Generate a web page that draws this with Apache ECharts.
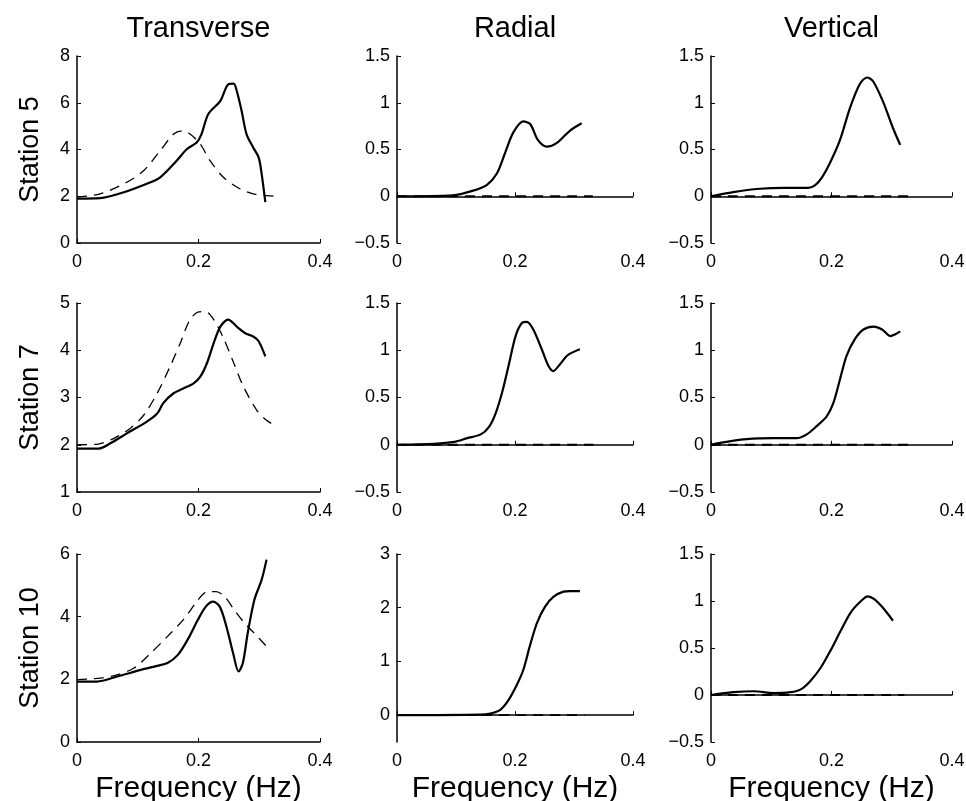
<!DOCTYPE html>
<html>
<head>
<meta charset="utf-8">
<title>Station spectra</title>
<script src="https://cdn.jsdelivr.net/npm/echarts@6/dist/echarts.min.js"></script>
<style>
  html, body { margin: 0; padding: 0; background: #fff; }
  #chart { width: 966px; height: 801px; }
</style>
</head>
<body>
<div id="chart"></div>
<script>
var components = ['Transverse', 'Radial', 'Vertical']
var stations = ['Station 5', 'Station 7', 'Station 10']
var xTicks = [0, 0.2, 0.4]

// y range + tick values, row by row
var yRanges = [[0, 8], [-0.5, 1.5], [-0.5, 1.5], [1, 5], [-0.5, 1.5], [-0.5, 1.5], [0, 6], [-0.5, 3], [-0.5, 1.5]]
var yTicks = [
  [0, 2, 4, 6, 8], [-0.5, 0, 0.5, 1, 1.5], [-0.5, 0, 0.5, 1, 1.5],
  [1, 2, 3, 4, 5], [-0.5, 0, 0.5, 1, 1.5], [-0.5, 0, 0.5, 1, 1.5],
  [0, 2, 4, 6], [0, 1, 2, 3], [-0.5, 0, 0.5, 1, 1.5]
]

// Station 5
var st5Trans = [[0, 1.9], [0.038, 1.92], [0.077, 2.17], [0.121, 2.6], [0.137, 2.81], [0.164, 3.52], [0.181, 4.02], [0.197, 4.3], [0.205, 4.66], [0.216, 5.51], [0.236, 6.08], [0.249, 6.79], [0.258, 6.82], [0.263, 6.5], [0.271, 5.65], [0.279, 4.66], [0.29, 4.09], [0.299, 3.66], [0.304, 2.95], [0.31, 1.75]]
var st5TransDash = [[0, 1.96], [0.038, 2.1], [0.082, 2.6], [0.11, 3.1], [0.137, 3.95], [0.159, 4.66], [0.173, 4.8], [0.186, 4.66], [0.203, 4.23], [0.219, 3.52], [0.241, 2.81], [0.268, 2.32], [0.29, 2.1], [0.312, 2.03], [0.329, 1.99]]
var st5Rad = [[0, 0], [0.095, 0.01], [0.129, 0.06], [0.152, 0.12], [0.169, 0.24], [0.183, 0.46], [0.197, 0.68], [0.214, 0.8], [0.226, 0.77], [0.239, 0.6], [0.254, 0.53], [0.271, 0.57], [0.293, 0.7], [0.313, 0.78]]
var st5RadDash = [[0, 0], [0.332, 0]]
var st5Vert = [[0, 0], [0.037, 0.045], [0.081, 0.08], [0.12, 0.09], [0.161, 0.09], [0.173, 0.12], [0.184, 0.2], [0.197, 0.35], [0.214, 0.6], [0.231, 0.95], [0.247, 1.2], [0.259, 1.27], [0.269, 1.23], [0.285, 1.02], [0.302, 0.73], [0.314, 0.55]]
var st5VertDash = [[0, 0], [0.333, 0]]

// Station 7
var st7Trans = [[0, 1.92], [0.036, 1.92], [0.055, 2.03], [0.082, 2.24], [0.115, 2.49], [0.132, 2.66], [0.142, 2.88], [0.159, 3.09], [0.175, 3.19], [0.192, 3.3], [0.203, 3.44], [0.214, 3.73], [0.225, 4.15], [0.236, 4.5], [0.249, 4.65], [0.263, 4.5], [0.277, 4.36], [0.29, 4.29], [0.299, 4.19], [0.31, 3.87]]
var st7TransDash = [[0, 2.0], [0.033, 2.01], [0.06, 2.13], [0.088, 2.35], [0.11, 2.63], [0.132, 3.09], [0.153, 3.65], [0.17, 4.15], [0.186, 4.65], [0.2, 4.81], [0.211, 4.82], [0.225, 4.65], [0.241, 4.26], [0.258, 3.73], [0.274, 3.23], [0.296, 2.73], [0.312, 2.52], [0.329, 2.38]]
var st7Rad = [[0, 0], [0.063, 0.01], [0.097, 0.03], [0.119, 0.07], [0.142, 0.11], [0.156, 0.19], [0.167, 0.33], [0.178, 0.55], [0.19, 0.86], [0.201, 1.15], [0.212, 1.29], [0.22, 1.3], [0.231, 1.22], [0.246, 1.0], [0.257, 0.83], [0.265, 0.78], [0.276, 0.85], [0.29, 0.95], [0.31, 1.01]]
var st7RadDash = [[0, 0], [0.333, 0]]
var st7Vert = [[0, 0], [0.025, 0.03], [0.059, 0.06], [0.104, 0.07], [0.142, 0.07], [0.159, 0.11], [0.176, 0.2], [0.192, 0.3], [0.203, 0.44], [0.214, 0.69], [0.225, 0.94], [0.239, 1.12], [0.253, 1.22], [0.27, 1.25], [0.284, 1.22], [0.298, 1.15], [0.306, 1.17], [0.314, 1.2]]
var st7VertDash = [[0, 0], [0.333, 0]]

// Station 10
var st10Trans = [[0, 1.93], [0.033, 1.93], [0.066, 2.09], [0.105, 2.3], [0.132, 2.43], [0.149, 2.52], [0.166, 2.78], [0.182, 3.26], [0.199, 3.9], [0.212, 4.32], [0.224, 4.48], [0.235, 4.32], [0.246, 3.68], [0.257, 2.83], [0.266, 2.25], [0.273, 2.52], [0.281, 3.47], [0.292, 4.54], [0.304, 5.18], [0.312, 5.82]]
var st10TransDash = [[0, 1.99], [0.039, 2.04], [0.066, 2.14], [0.094, 2.36], [0.121, 2.83], [0.149, 3.37], [0.177, 3.95], [0.199, 4.53], [0.215, 4.8], [0.229, 4.8], [0.243, 4.64], [0.259, 4.21], [0.276, 3.79], [0.292, 3.47], [0.312, 3.05]]
var st10Rad = [[0, 0], [0.141, 0.01], [0.158, 0.03], [0.175, 0.1], [0.189, 0.28], [0.203, 0.56], [0.214, 0.84], [0.225, 1.28], [0.237, 1.71], [0.251, 2.02], [0.265, 2.2], [0.282, 2.3], [0.293, 2.31], [0.31, 2.31]]
var st10RadDash = [[0, 0], [0.318, 0]]
var st10Vert = [[0, 0], [0.037, 0.03], [0.071, 0.04], [0.104, 0.02], [0.132, 0.03], [0.149, 0.06], [0.165, 0.15], [0.182, 0.29], [0.199, 0.48], [0.215, 0.68], [0.232, 0.88], [0.249, 1.0], [0.26, 1.05], [0.271, 1.02], [0.285, 0.93], [0.302, 0.79]]
var st10VertDash = [[0, 0], [0.321, 0]]

var solidLines = [st5Trans, st5Rad, st5Vert, st7Trans, st7Rad, st7Vert, st10Trans, st10Rad, st10Vert]
var dashedLines = [st5TransDash, st5RadDash, st5VertDash, st7TransDash, st7RadDash, st7VertDash, st10TransDash, st10RadDash, st10VertDash]

var font = "'Liberation Sans', Arial, sans-serif"
var lefts = [77, 397, 711]
var widths = [243, 236, 241]
var tops = [56, 303, 554]
var heights = [187, 189, 188]

var chart = echarts.init(document.getElementById('chart'))
var grids = []
var xAxes = []
var yAxes = []
var series = []
var graphics = []

for (var r = 0; r < 3; r++) {
  for (var c = 0; c < 3; c++) {
    var i = r * 3 + c
    grids.push({ left: lefts[c], top: tops[r], width: widths[c], height: heights[r], outerBoundsMode: 'none', containLabel: false })
    xAxes.push({
      gridIndex: i,
      type: 'value',
      min: 0,
      max: 0.4,
      splitLine: { show: false },
      axisLine: { lineStyle: { color: '#000', width: 1.5 } },
      axisTick: { inside: true, length: 4, customValues: xTicks, lineStyle: { color: '#000' } },
      axisLabel: { customValues: xTicks, color: '#000', fontSize: 18, fontFamily: font, margin: 10 },
      name: r === 2 ? 'Frequency (Hz)' : '',
      nameLocation: 'middle',
      nameGap: 32,
      nameTextStyle: { color: '#000', fontSize: 30, fontFamily: font }
    })
    yAxes.push({
      gridIndex: i,
      type: 'value',
      min: yRanges[i][0],
      max: yRanges[i][1],
      splitLine: { show: false },
      axisLine: { show: true, lineStyle: { color: '#000', width: 1.5 } },
      axisTick: { show: true, inside: true, length: 4, customValues: yTicks[i], lineStyle: { color: '#000' } },
      axisLabel: {
        customValues: yTicks[i],
        color: '#000',
        fontSize: 18,
        fontFamily: font,
        margin: 7,
        formatter: function (v) { return String(v).replace('-', '\u2212') }
      },
      name: c === 0 ? stations[r] : '',
      nameLocation: 'middle',
      nameRotate: 90,
      nameGap: 33,
      nameTextStyle: { color: '#000', fontSize: 27, fontFamily: font }
    })
    series.push({
      type: 'line',
      xAxisIndex: i,
      yAxisIndex: i,
      data: dashedLines[i],
      smooth: 0.3,
      symbol: 'none',
      lineStyle: { color: '#000', width: c === 0 ? 1.3 : 1.8, type: [10, 7] }
    })
    series.push({
      type: 'line',
      xAxisIndex: i,
      yAxisIndex: i,
      data: solidLines[i],
      smooth: 0.3,
      symbol: 'none',
      lineStyle: { color: '#000', width: 2.2 }
    })
  }
}

for (var k = 0; k < 3; k++) {
  graphics.push({
    type: 'text',
    x: lefts[k] + widths[k] / 2,
    y: 29,
    style: {
      text: components[k],
      font: '29px ' + font,
      fill: '#000',
      textAlign: 'center',
      textVerticalAlign: 'middle'
    }
  })
}

chart.setOption({
  animation: false,
  backgroundColor: '#fff',
  grid: grids,
  xAxis: xAxes,
  yAxis: yAxes,
  series: series,
  graphic: graphics
})
</script>
</body>
</html>
